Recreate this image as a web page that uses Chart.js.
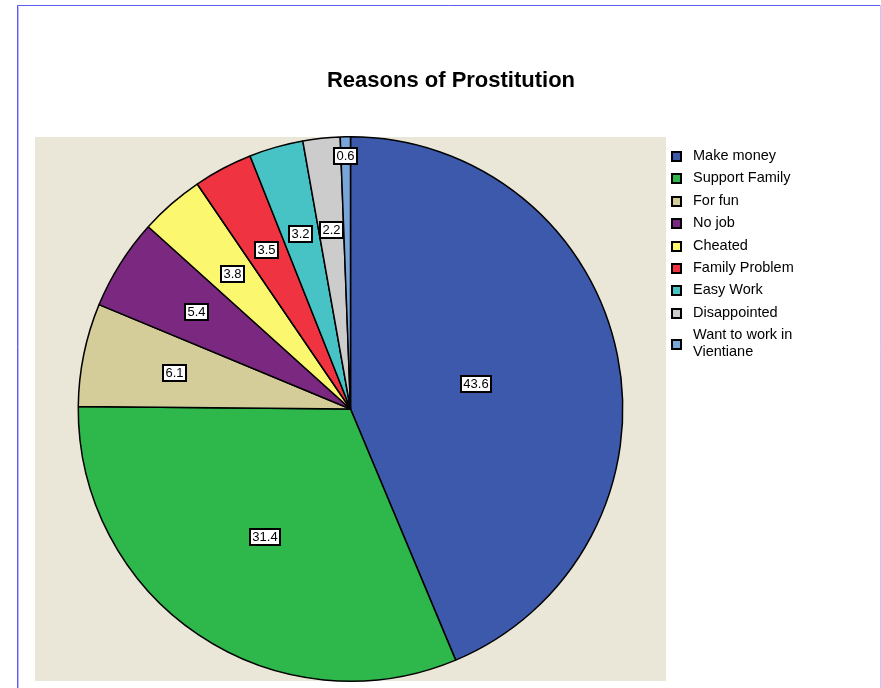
<!DOCTYPE html>
<html>
<head>
<meta charset="utf-8">
<script src="https://cdn.jsdelivr.net/npm/chart.js@4.4.0/dist/chart.umd.min.js"></script>
<style>
html,body{margin:0;padding:0;background:#fff;}
canvas{display:block;}
</style>
</head>
<body>
<canvas id="c" width="881" height="688"></canvas>
<script>
const chartTitle = 'Reasons of Prostitution';
const categories = ['Make money','Support Family','For fun','No job','Cheated','Family Problem','Easy Work','Disappointed','Want to work in Vientiane'];
const values = [43.6, 31.4, 6.1, 5.4, 3.8, 3.5, 3.2, 2.2, 0.6];
const colors = ['#3d59ab','#2eb84b','#d4cd99','#7b2880','#fbf870','#ef3340','#47c3c6','#cccccc','#79a6d8'];
const labelRadius = [0.47, 0.565, 0.66, 0.67, 0.66, 0.66, 0.67, 0.66, 0.93];

const FONT = 'Arial, "Liberation Sans", Helvetica, sans-serif';

const framePlugin = {
  id: 'frame',
  beforeDraw(chart) {
    const ctx = chart.ctx, a = chart.chartArea;
    ctx.save();
    ctx.fillStyle = '#ffffff';
    ctx.fillRect(0, 0, chart.width, chart.height);
    ctx.strokeStyle = '#5b5bf0';
    ctx.lineWidth = 1;
    ctx.beginPath();
    ctx.moveTo(17.5, chart.height);
    ctx.lineTo(17.5, 5.5);
    ctx.lineTo(chart.width, 5.5);
    ctx.stroke();
    ctx.strokeStyle = '#b8b8fa';
    ctx.beginPath();
    ctx.moveTo(18.5, chart.height);
    ctx.lineTo(18.5, 6.5);
    ctx.stroke();
    ctx.strokeStyle = '#c8c8ff';
    ctx.beginPath();
    ctx.moveTo(880.5, 5);
    ctx.lineTo(880.5, chart.height);
    ctx.stroke();
    ctx.fillStyle = '#ebe7d8';
    ctx.fillRect(a.left, a.top + 1, a.right - a.left, a.bottom - a.top - 2);
    ctx.fillStyle = '#000';
    ctx.font = 'bold 22px ' + FONT;
    ctx.textAlign = 'center';
    ctx.textBaseline = 'middle';
    ctx.fillText(chartTitle, 451, 81);
    ctx.restore();
  }
};

const labelPlugin = {
  id: 'valueLabels',
  afterDatasetsDraw(chart) {
    const ctx = chart.ctx;
    const meta = chart.getDatasetMeta(0);
    ctx.save();
    ctx.font = '13px ' + FONT;
    ctx.textAlign = 'center';
    ctx.textBaseline = 'middle';
    meta.data.forEach((arc, i) => {
      const p = arc.getProps(['x','y','startAngle','endAngle','outerRadius'], true);
      const mid = (p.startAngle + p.endAngle) / 2;
      const r = p.outerRadius * labelRadius[i];
      const cx = p.x + Math.cos(mid) * r;
      const cy = p.y + Math.sin(mid) * r;
      const txt = values[i].toFixed(1);
      const w = Math.round(ctx.measureText(txt).width) + 7;
      const h = 18;
      const bx = Math.round(cx - w / 2), by = Math.round(cy - h / 2);
      ctx.fillStyle = '#fff';
      ctx.fillRect(bx, by, w, h);
      ctx.strokeStyle = '#000';
      ctx.lineWidth = 2;
      ctx.strokeRect(bx + 1, by + 1, w - 2, h - 2);
      ctx.fillStyle = '#000';
      ctx.fillText(txt, bx + w / 2, by + h / 2 + 0.5);
    });
    ctx.restore();
  }
};

function wrapText(ctx, text, maxW) {
  const words = text.split(' ');
  const lines = [];
  let cur = '';
  words.forEach(wd => {
    const t = cur ? cur + ' ' + wd : wd;
    if (ctx.measureText(t).width > maxW && cur) { lines.push(cur); cur = wd; }
    else cur = t;
  });
  if (cur) lines.push(cur);
  return lines;
}

const legendPlugin = {
  id: 'sideLegend',
  afterDraw(chart) {
    const ctx = chart.ctx;
    ctx.save();
    ctx.font = '14.5px ' + FONT;
    ctx.textAlign = 'left';
    ctx.textBaseline = 'middle';
    let y = 156;
    const lineH = 17;
    const step = 22.4;
    chart.data.labels.forEach((lab, i) => {
      const lines = wrapText(ctx, lab, 120);
      const blockH = (lines.length - 1) * lineH;
      const sy = y + blockH / 2;
      const top = Math.round(sy) - 5;
      ctx.fillStyle = colors[i];
      ctx.fillRect(671, top, 11, 11);
      ctx.strokeStyle = '#000';
      ctx.lineWidth = 2;
      ctx.strokeRect(672, top + 1, 9, 9);
      ctx.fillStyle = '#000';
      lines.forEach((ln, k) => ctx.fillText(ln, 693, y + k * lineH));
      y += step + blockH;
    });
    ctx.restore();
  }
};

new Chart(document.getElementById('c'), {
  type: 'pie',
  data: {
    labels: categories,
    datasets: [{
      data: values,
      backgroundColor: colors,
      borderColor: '#000',
      borderWidth: 1.5
    }]
  },
  options: {
    responsive: false,
    animation: false,
    layout: { padding: { left: 35, right: 215, top: 136, bottom: 6 } },
    plugins: {
      legend: { display: false },
      title: { display: false },
      tooltip: { enabled: false }
    }
  },
  plugins: [framePlugin, labelPlugin, legendPlugin]
});
</script>
</body>
</html>
